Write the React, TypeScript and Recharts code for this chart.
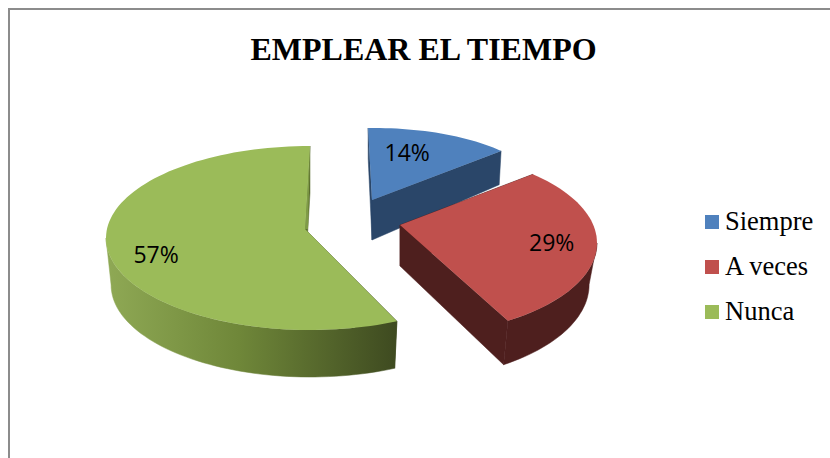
import { Legend, Pie, PieChart } from "recharts";

const categories = ["Siempre", "A veces", "Nunca"];
const shares = [14, 29, 57];
const topColors = ["#4f81bd", "#c0504d", "#9bbb59"];
const sideColors = ["#2a4669", "#4e1f1e", "url(#greenWall)"];

const tableData = categories.map((name, i) => ({ name, value: shares[i] }));

// tilted view of each exploded slice: ellipse for the top face, the apex, how far it drops
const views = [
  { ex: 374, ey: 196, rx: 170, ry: 68, ax: 372, ay: 200, twist: -2, depth: 40, slope: 0.125, shrink: 0.015, labelR: 0.66, labelTurn: -6, sliver: -1 },
  { ex: 400, ey: 243, rx: 197, ry: 93, ax: 400, ay: 225, twist: -8, depth: 41, slope: 0.03, shrink: 0.04, labelR: 0.77, labelTurn: -5, sliver: 0 },
  { ex: 310, ey: 238, rx: 204, ry: 92, ax: 305, ay: 229, twist: 0, depth: 47, slope: 0, shrink: 0.025, labelR: 0.777, labelTurn: -1.2, sliver: 3 }
];

type Pt = [number, number];
type View = (typeof views)[number];

const rad = (deg: number) => (deg * Math.PI) / 180;

const onRim = (v: View, theta: number): Pt => [
  v.ex + v.rx * Math.sin(rad(theta)),
  v.ey - v.ry * Math.cos(rad(theta))
];

const dropped = (v: View, [x, y]: Pt): Pt => [
  x + (v.ex - x) * v.shrink,
  y + v.depth + v.slope * (y - v.ay)
];

const rimPoints = (v: View, from: number, to: number) => {
  const out: Pt[] = [];
  const steps = Math.max(2, Math.ceil(Math.abs(to - from) / 2));
  for (let i = 0; i <= steps; i++) out.push(onRim(v, from + ((to - from) * i) / steps));
  return out;
};

const toPath = (pts: Pt[]) =>
  pts.map(([x, y], i) => `${i ? "L" : "M"}${x.toFixed(1)} ${y.toFixed(1)}`).join(" ") + " Z";

const SliceShape = (props: any) => {
  const i = categories.indexOf(props.name);
  const v = views[i];
  const from = 90 - props.startAngle + v.twist;
  const to = 90 - props.endAngle + v.twist;
  const apex: Pt = [v.ax, v.ay];
  const rim = rimPoints(v, from, to);
  const first = rim[0];
  const last = rim[rim.length - 1];
  const side = sideColors[i];

  const wallFrom = Math.max(from, 90);
  const wallTo = Math.min(to, 270);
  const wall = wallTo > wallFrom ? rimPoints(v, wallFrom, wallTo) : [];

  return (
    <g>
      <path d={toPath([apex, first, dropped(v, first), dropped(v, apex)])} fill={side} stroke={side} strokeWidth={0.5} />
      <path d={toPath([apex, last, dropped(v, last), dropped(v, apex)])} fill={side} stroke={side} strokeWidth={0.5} />
      {wall.length > 0 && (
        <path d={toPath([...wall, ...wall.map((p) => dropped(v, p)).reverse()])} fill={side} stroke={side} strokeWidth={0.5} />
      )}
      {v.sliver !== 0 && (
        <path
          d={toPath([last, [v.ax + v.sliver, v.ay], apex])}
          fill={i === 2 ? "#7f9b46" : "#2a4669"}
        />
      )}
      <path d={toPath([apex, ...rim])} fill={topColors[i]} />
    </g>
  );
};

const SliceLabel = (props: any) => {
  const i = categories.indexOf(props.name);
  const v = views[i];
  const theta = 90 - props.midAngle + v.twist + v.labelTurn;
  const x = v.ex + v.rx * v.labelR * Math.sin(rad(theta));
  const y = v.ey - v.ry * v.labelR * Math.cos(rad(theta));
  return (
    <text
      x={x}
      y={y}
      dy="0.36em"
      textAnchor="middle"
      fontFamily="'Open Sans', sans-serif"
      fontSize={23}
      fill="#000"
    >
      {`${Math.round(props.percent * 100)}%`}
    </text>
  );
};

const LegendList = ({ payload }: any) => (
  <div style={{ fontFamily: "'Liberation Serif', serif", fontSize: 26.5, color: "#000" }}>
    {(payload || []).map((entry: any, i: number) => (
      <div key={entry.value} style={{ display: "flex", alignItems: "center", height: 45 }}>
        <span style={{ width: 14, height: 14, marginRight: 6, background: topColors[i] }} />
        <span>{entry.value}</span>
      </div>
    ))}
  </div>
);

export default function App() {
  return (
    <div style={{ position: "absolute", left: 0, top: 0, width: 830, height: 458, overflow: "hidden", background: "#fff" }}>
      <div
        style={{
          position: "absolute",
          left: 8,
          top: 8,
          right: 0,
          bottom: 0,
          borderTop: "2px solid #8c8c8c",
          borderLeft: "2px solid #8c8c8c"
        }}
      />
      <div
        style={{
          position: "absolute",
          left: 0,
          width: 847,
          top: 31,
          textAlign: "center",
          fontFamily: "'Liberation Serif', serif",
          fontWeight: "bold",
          fontSize: 32,
          color: "#000"
        }}
      >
        EMPLEAR EL TIEMPO
      </div>
      <PieChart width={830} height={458} style={{ position: "absolute", left: 0, top: 0 }}>
        <defs>
          <linearGradient id="greenWall" gradientUnits="userSpaceOnUse" x1="110" y1="0" x2="397" y2="0">
            <stop offset="0%" stopColor="#8ea854" />
            <stop offset="45%" stopColor="#6f8739" />
            <stop offset="100%" stopColor="#3e4a20" />
          </linearGradient>
        </defs>
        <Pie
          data={tableData}
          dataKey="value"
          nameKey="name"
          cx={350}
          cy={240}
          outerRadius={190}
          startAngle={90}
          endAngle={-270}
          stroke="none"
          shape={SliceShape}
          label={SliceLabel}
          labelLine={false}
          isAnimationActive={false}
        />
        <Legend
          content={LegendList}
          layout="vertical"
          itemSorter={null}
          wrapperStyle={{ position: "absolute", left: 705, top: 199, width: 125 }}
        />
      </PieChart>
    </div>
  );
}
